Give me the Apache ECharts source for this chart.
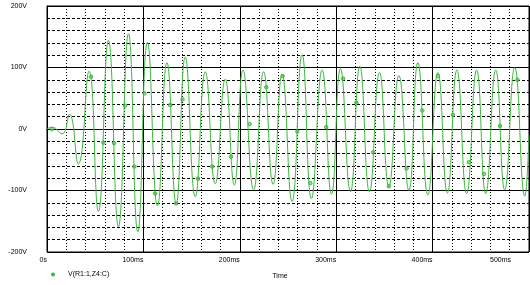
<!DOCTYPE html>
<html>
<head>
<meta charset="utf-8">
<script src="https://cdn.jsdelivr.net/npm/echarts@6/dist/echarts.min.js"></script>
<style>html,body{margin:0;padding:0;background:#fff;}#c{width:530px;height:285px;}</style>
</head>
<body>
<div id="c"></div>
<script>
// time (ms) of each extremum
var timesMs = [0, 5.2, 15.6, 23.2, 32.5, 43.6, 53.3, 63.7, 74.1, 84.5, 94.2, 104.2, 114.6, 124.4, 134.0, 143.4, 153.8, 164.2, 174.5, 184.9, 194.3, 203.3, 214.3, 224.7, 234.5, 243.8, 254.2, 264.6, 274.3, 285.4, 295.1, 304.4, 314.8, 324.5, 334.5, 344.9, 354.6, 365.0, 375.4, 384.7, 395.1, 405.5, 415.3, 425.2, 435.3, 445.7, 455.1, 465.5, 474.8, 485.2, 495.6, 500];
// voltage (V) at each extremum
var volts = [0, 3, -8, 24, -57, 94, -134, 144, -159, 155, -167, 141, -125, 108, -122, 117, -110, 93, -89, 81, -91, 96, -99, 93, -90, 89, -118, 121, -113, 96, -106, 98, -102, 102, -102, 92, -94, 87, -100, 108, -107, 92, -104, 96, -105, 96, -105, 96, -99, 100, -109, -10];
// marker symbol positions on the trace
var markerTimes = [4.9, 45.7, 58.5, 69.6, 81.0, 90.7, 101.1, 112.2, 127.8, 134.0, 140.6, 156.6, 171.4, 190.9, 210.2, 227.5, 244.5, 259.7, 273.2, 289.6, 307.2, 321.0, 338.4, 354.6, 373.0, 389.3, 405.5, 421.1, 437.7, 453.3, 469.9, 488.0];
var markerVolts = [0, 85, -22, -23, 38, -61, 58, -105, 39, -121, 48, -81, -61, -45, 8, 68, 86, -4, -88, 3, 82, 43, -38, -93, -64, 30, 86, 23, -54, -73, 5, 80];
var xTickLabels = ['0s', '100ms', '200ms', '300ms', '400ms', '500ms'];
var yTickLabels = ['-200V', '-100V', '0V', '100V', '200V'];
var seriesName = 'V(R1:1,Z4:C)';
var xName = 'Time';

var lineData = timesMs.map(function (t, i) { return [t, volts[i]]; });
var markData = markerTimes.map(function (t, i) { return [t, markerVolts[i]]; });
var green = '#3cb83c';
var fontFam = '"Liberation Sans", Arial, sans-serif';

var chart = echarts.init(document.getElementById('c'), null, {renderer: 'canvas'});
chart.setOption({
  animation: false,
  backgroundColor: '#fff',
  grid: {left: 47, right: 1, top: 6, bottom: 28, show: true, borderColor: '#000', borderWidth: 1},
  legend: {
    left: 46, top: 266, itemWidth: 4, itemHeight: 4,
    data: [{name: seriesName, icon: 'circle'}],
    textStyle: {fontSize: 7, fontFamily: fontFam, color: '#000', padding: [0, 0, 0, 8]}
  },
  xAxis: {
    type: 'value', min: 0, max: 500, interval: 100,
    name: xName, nameLocation: 'middle', nameGap: 21,
    nameTextStyle: {fontSize: 7, fontFamily: fontFam, color: '#000', padding: [0, 16, 0, 0]},
    axisLine: {show: true, lineStyle: {color: '#000', width: 1}},
    axisTick: {show: false},
    axisLabel: {
      fontSize: 7, fontFamily: fontFam, color: '#000', align: 'right', margin: 5,
      formatter: function (v) {
        var i = Math.round(v / 100);
        if (i === xTickLabels.length - 1) return '{last|' + xTickLabels[i] + '}';
        return xTickLabels[i];
      },
      rich: {last: {fontSize: 7, fontFamily: fontFam, color: '#000', padding: [0, 18, 0, 0]}}
    },
    splitLine: {show: true, lineStyle: {color: '#000', width: 1}},
    minorTick: {show: false, splitNumber: 5},
    minorSplitLine: {show: true, lineStyle: {color: '#000', width: 1, type: [1, 2]}}
  },
  yAxis: {
    type: 'value', min: -200, max: 200, interval: 100,
    axisLine: {show: true, lineStyle: {color: '#000', width: 1}},
    axisTick: {show: false},
    axisLabel: {
      fontSize: 7, fontFamily: fontFam, color: '#000', margin: 20,
      formatter: function (v) { return yTickLabels[Math.round((v + 200) / 100)]; }
    },
    splitLine: {show: true, lineStyle: {color: '#000', width: 1}},
    minorTick: {show: false, splitNumber: 5},
    minorSplitLine: {show: true, lineStyle: {color: '#000', width: 1, type: [3, 2]}}
  },
  series: [
    {
      name: seriesName, type: 'line', data: lineData, smooth: 0.5, showSymbol: false,
      symbol: 'circle',
      lineStyle: {color: green, width: 1}, itemStyle: {color: green}
    },
    {
      name: 'markers', type: 'scatter', data: markData, symbol: 'circle', symbolSize: 3.5,
      itemStyle: {color: '#7fd87f', borderColor: '#22a822', borderWidth: 1}
    }
  ]
});
</script>
</body>
</html>
